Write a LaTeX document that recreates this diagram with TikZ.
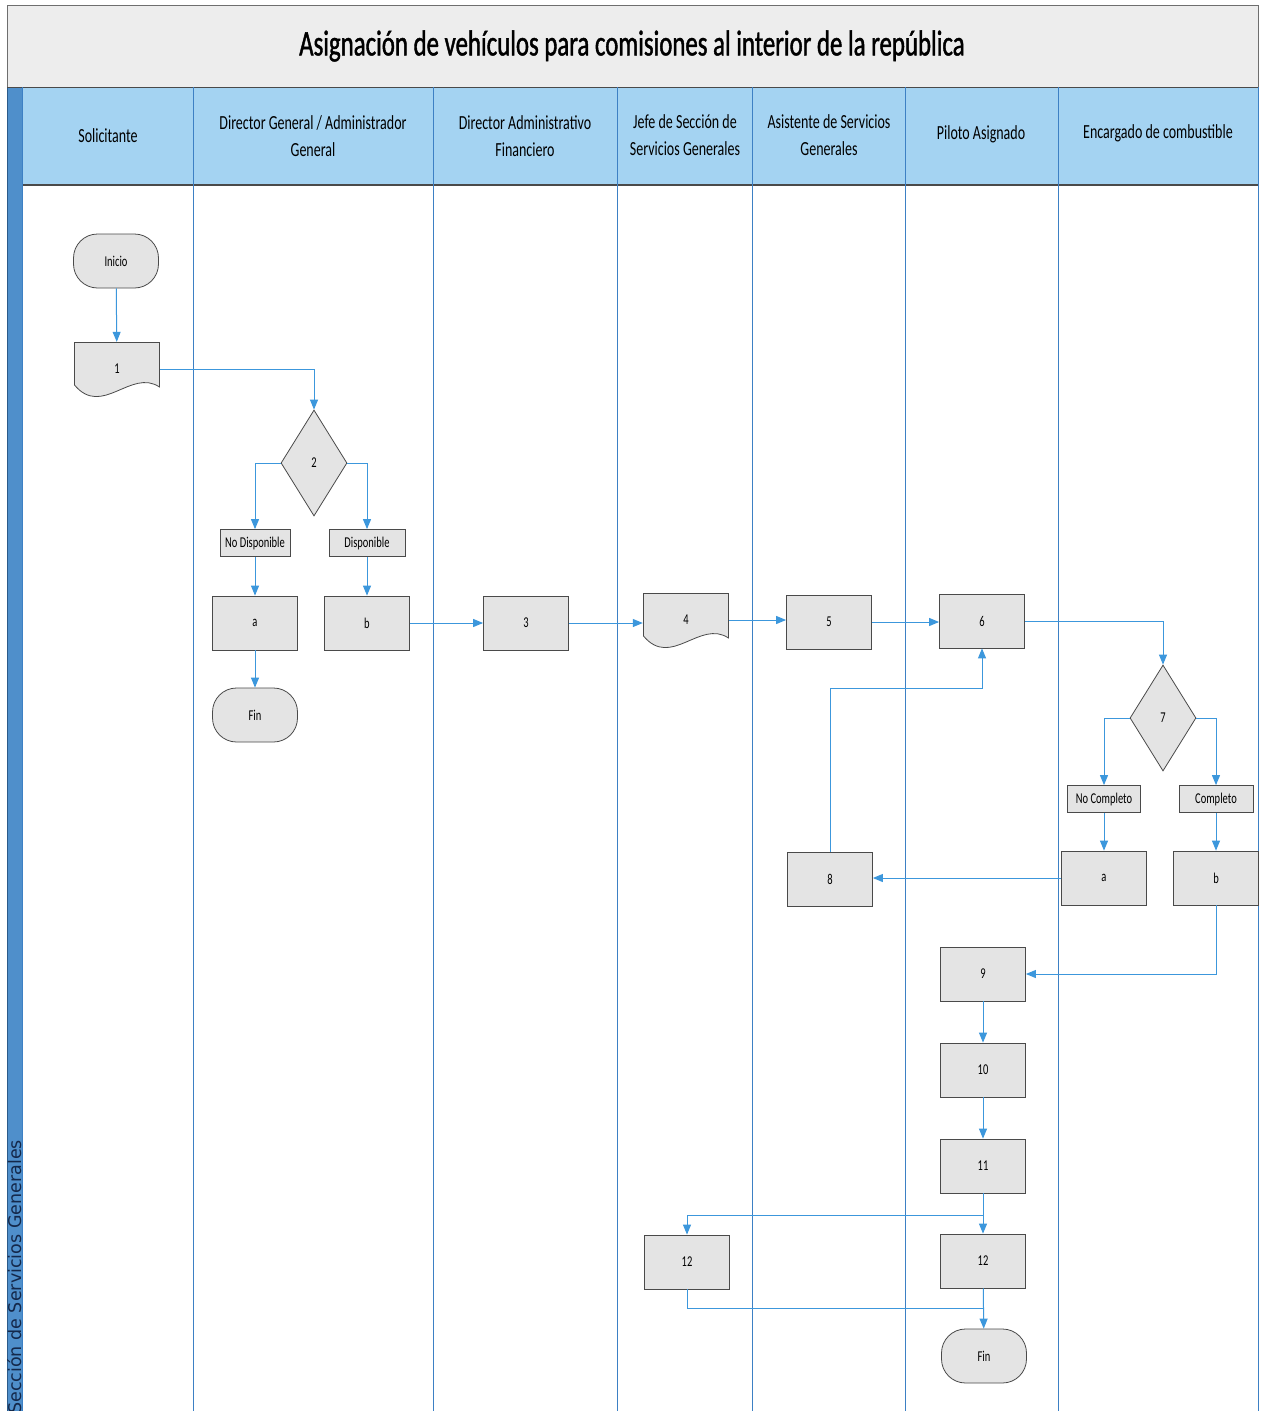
\documentclass[tikz,border=0pt]{standalone}
\usepackage{fontspec}
\setmainfont{Carlito}
\newfontfamily\cf[FakeStretch=0.7]{Carlito}
\newfontfamily\tf[FakeStretch=0.69,FakeBold=1.2]{Carlito}
\newfontfamily\vf{DejaVu Sans}
\usetikzlibrary{shapes.geometric,arrows.meta}
\definecolor{hdrblue}{HTML}{A4D3F2}
\definecolor{stripblue}{HTML}{4F8FCB}
\definecolor{lanecol}{HTML}{3D80C4}
\definecolor{arrcol}{HTML}{3C97DC}
\definecolor{boxfill}{HTML}{E4E4E4}
\definecolor{boxline}{HTML}{4A4A4A}
\definecolor{titlefill}{HTML}{EDEDED}
\definecolor{striptext}{HTML}{14284A}
\tikzset{
  procbox/.style={rectangle, draw=boxline, fill=boxfill, line width=0.8pt, minimum width=85pt, minimum height=54pt, inner sep=0pt, font=\cf\fontsize{15}{17}\selectfont},
  termbox/.style={procbox, rounded corners=24pt},
  labbox/.style={procbox, minimum width=72pt, minimum height=27pt, font=\cf\fontsize{15}{17}\selectfont},
  decis/.style={diamond, draw=boxline, fill=boxfill, line width=0.8pt, minimum width=66pt, minimum height=106pt, inner sep=0pt, font=\cf\fontsize{15}{17}\selectfont},
  docnode/.style={rectangle, draw=none, minimum width=86pt, minimum height=54pt, inner sep=0pt, font=\cf\fontsize{15}{17}\selectfont,
    path picture={\filldraw[draw=boxline, fill=boxfill, line width=0.8pt]
      ([shift={(0.5pt,-0.5pt)}]path picture bounding box.north west) --
      ([shift={(-0.5pt,-0.5pt)}]path picture bounding box.north east) --
      ([shift={(-0.5pt,9pt)}]path picture bounding box.south east) ..
      controls ([shift={(-29pt,28pt)}]path picture bounding box.south east) and
      ([shift={(28pt,-22pt)}]path picture bounding box.south west) ..
      ([shift={(0.5pt,11pt)}]path picture bounding box.south west) -- cycle;}},
  hdr/.style={align=center, font=\cf\fontsize{20}{27}\selectfont, inner sep=0pt},
  arr/.style={draw=arrcol, line width=1pt, -{Triangle[length=10pt,width=8pt]}},
  plain/.style={draw=arrcol, line width=1pt},
  lane/.style={draw=lanecol, line width=0.9pt}
}
\begin{document}
\begin{tikzpicture}[x=1pt,y=-1pt]
\useasboundingbox (0,0) rectangle (1263,1411);
\fill[white] (0,0) rectangle (1263,1411);
% title band
\filldraw[fill=titlefill, draw=boxline!80, line width=1pt] (7,5) rectangle (1258,87);
\node[font=\tf\fontsize{36}{40}\selectfont, inner sep=0pt] (title) at (632,46) {Asignación de vehículos para comisiones al interior de la república};
% header
\fill[hdrblue] (22,87) rectangle (1258,185);
\fill[stripblue] (7,87) rectangle (22,1411);
\draw[draw=lanecol!70!black, line width=1pt] (7,87) -- (7,1411);
\draw[draw=boxline, line width=1.2pt] (22,185) -- (1258,185);
\draw[draw=boxline, line width=1pt] (7,87) -- (1258,87);
\foreach \xx in {22,193,433,617,752,905,1058,1258}{
  \draw[lane] (\xx,87) -- (\xx,1411);
}
\node[rotate=90, anchor=west, font=\vf\fontsize{17.5}{19}\selectfont, text=striptext, inner sep=0pt] (strip) at (15,1414) {Sección de Servicios Generales};
% header texts
\node[hdr] (h1) at (108,136) {Solicitante};
\node[hdr] (h2) at (313,136) {Director General / Administrador\\General};
\node[hdr] (h3) at (525,136) {Director Administrativo\\Financiero};
\node[hdr] (h4) at (685,135) {Jefe de Sección de\\Servicios Generales};
\node[hdr] (h5) at (829,135) {Asistente de Servicios\\Generales};
\node[hdr] (h6) at (981,134) {Piloto Asignado};
\node[hdr] (h7) at (1158,133) {Encargado de combustible};
% shapes
\node[termbox] (ini) at (116,261) {Inicio};
\node[docnode] (n1) at (117,369) {1};
\node[decis] (d2) at (314,463) {2};
\node[labbox, minimum width=70pt] (nd) at (255,543) {No Disponible};
\node[labbox, minimum width=76pt] (disp) at (367,543) {Disponible};
\node[procbox] (a1) at (255,623) {a};
\node[procbox] (b1) at (367,623) {b};
\node[termbox] (fin1) at (255,715) {Fin};
\node[procbox] (n3) at (526,623) {3};
\node[docnode] (n4) at (686,620) {4};
\node[procbox] (n5) at (829,622) {5};
\node[procbox] (n6) at (982,621) {6};
\node[decis] (d7) at (1163,718) {7};
\node[labbox, minimum width=73pt] (nc) at (1104,799) {No Completo};
\node[labbox, minimum width=74pt] (comp) at (1216,799) {Completo};
\node[procbox] (a2) at (1104,878) {a};
\node[procbox] (b2) at (1216,878) {b};
\node[procbox] (n8) at (830,879) {8};
\node[procbox] (n9) at (983,974) {9};
\node[procbox] (n10) at (983,1070) {10};
\node[procbox] (n11) at (983,1166) {11};
\node[procbox] (n12r) at (983,1261) {12};
\node[procbox] (n12l) at (687,1262) {12};
\node[termbox] (fin2) at (984,1356) {Fin};
\coordinate (j86) at (982,688);
\coordinate (j11) at (983,1215);
\coordinate (j12) at (983,1308);
% connectors
\draw[arr] (ini) -- (n1);
\draw[arr] (n1.east) -| (d2.north);
\draw[arr] (d2.west) -| (nd.north);
\draw[arr] (d2.east) -| (disp.north);
\draw[arr] (nd) -- (a1);
\draw[arr] (disp) -- (b1);
\draw[arr] (a1) -- (fin1);
\draw[arr] (b1.east) -- (b1.east -| n3.west);
\draw[arr] (n3.east) -- (n3.east -| n4.west);
\draw[arr] (n4.east) -- (n4.east -| n5.west);
\draw[arr] (n5.east) -- (n5.east -| n6.west);
\draw[arr] (n6.east) -| (d7.north);
\draw[arr] (d7.west) -| (nc.north);
\draw[arr] (d7.east) -| (comp.north);
\draw[arr] (nc) -- (a2);
\draw[arr] (comp) -- (b2);
\draw[arr] (a2.west) -- (a2.west -| n8.east);
\draw[arr] (n8.north) |- (j86) -- (n6.south);
\draw[arr] (b2.south) |- (n9.east);
\draw[arr] (n9) -- (n10);
\draw[arr] (n10) -- (n11);
\draw[arr] (n11) -- (n12r);
\draw[arr] (j11) -| (n12l.north);
\draw[arr] (n12r) -- (fin2);
\draw[plain] (n12l.south) |- (j12);
\end{tikzpicture}
\end{document}
